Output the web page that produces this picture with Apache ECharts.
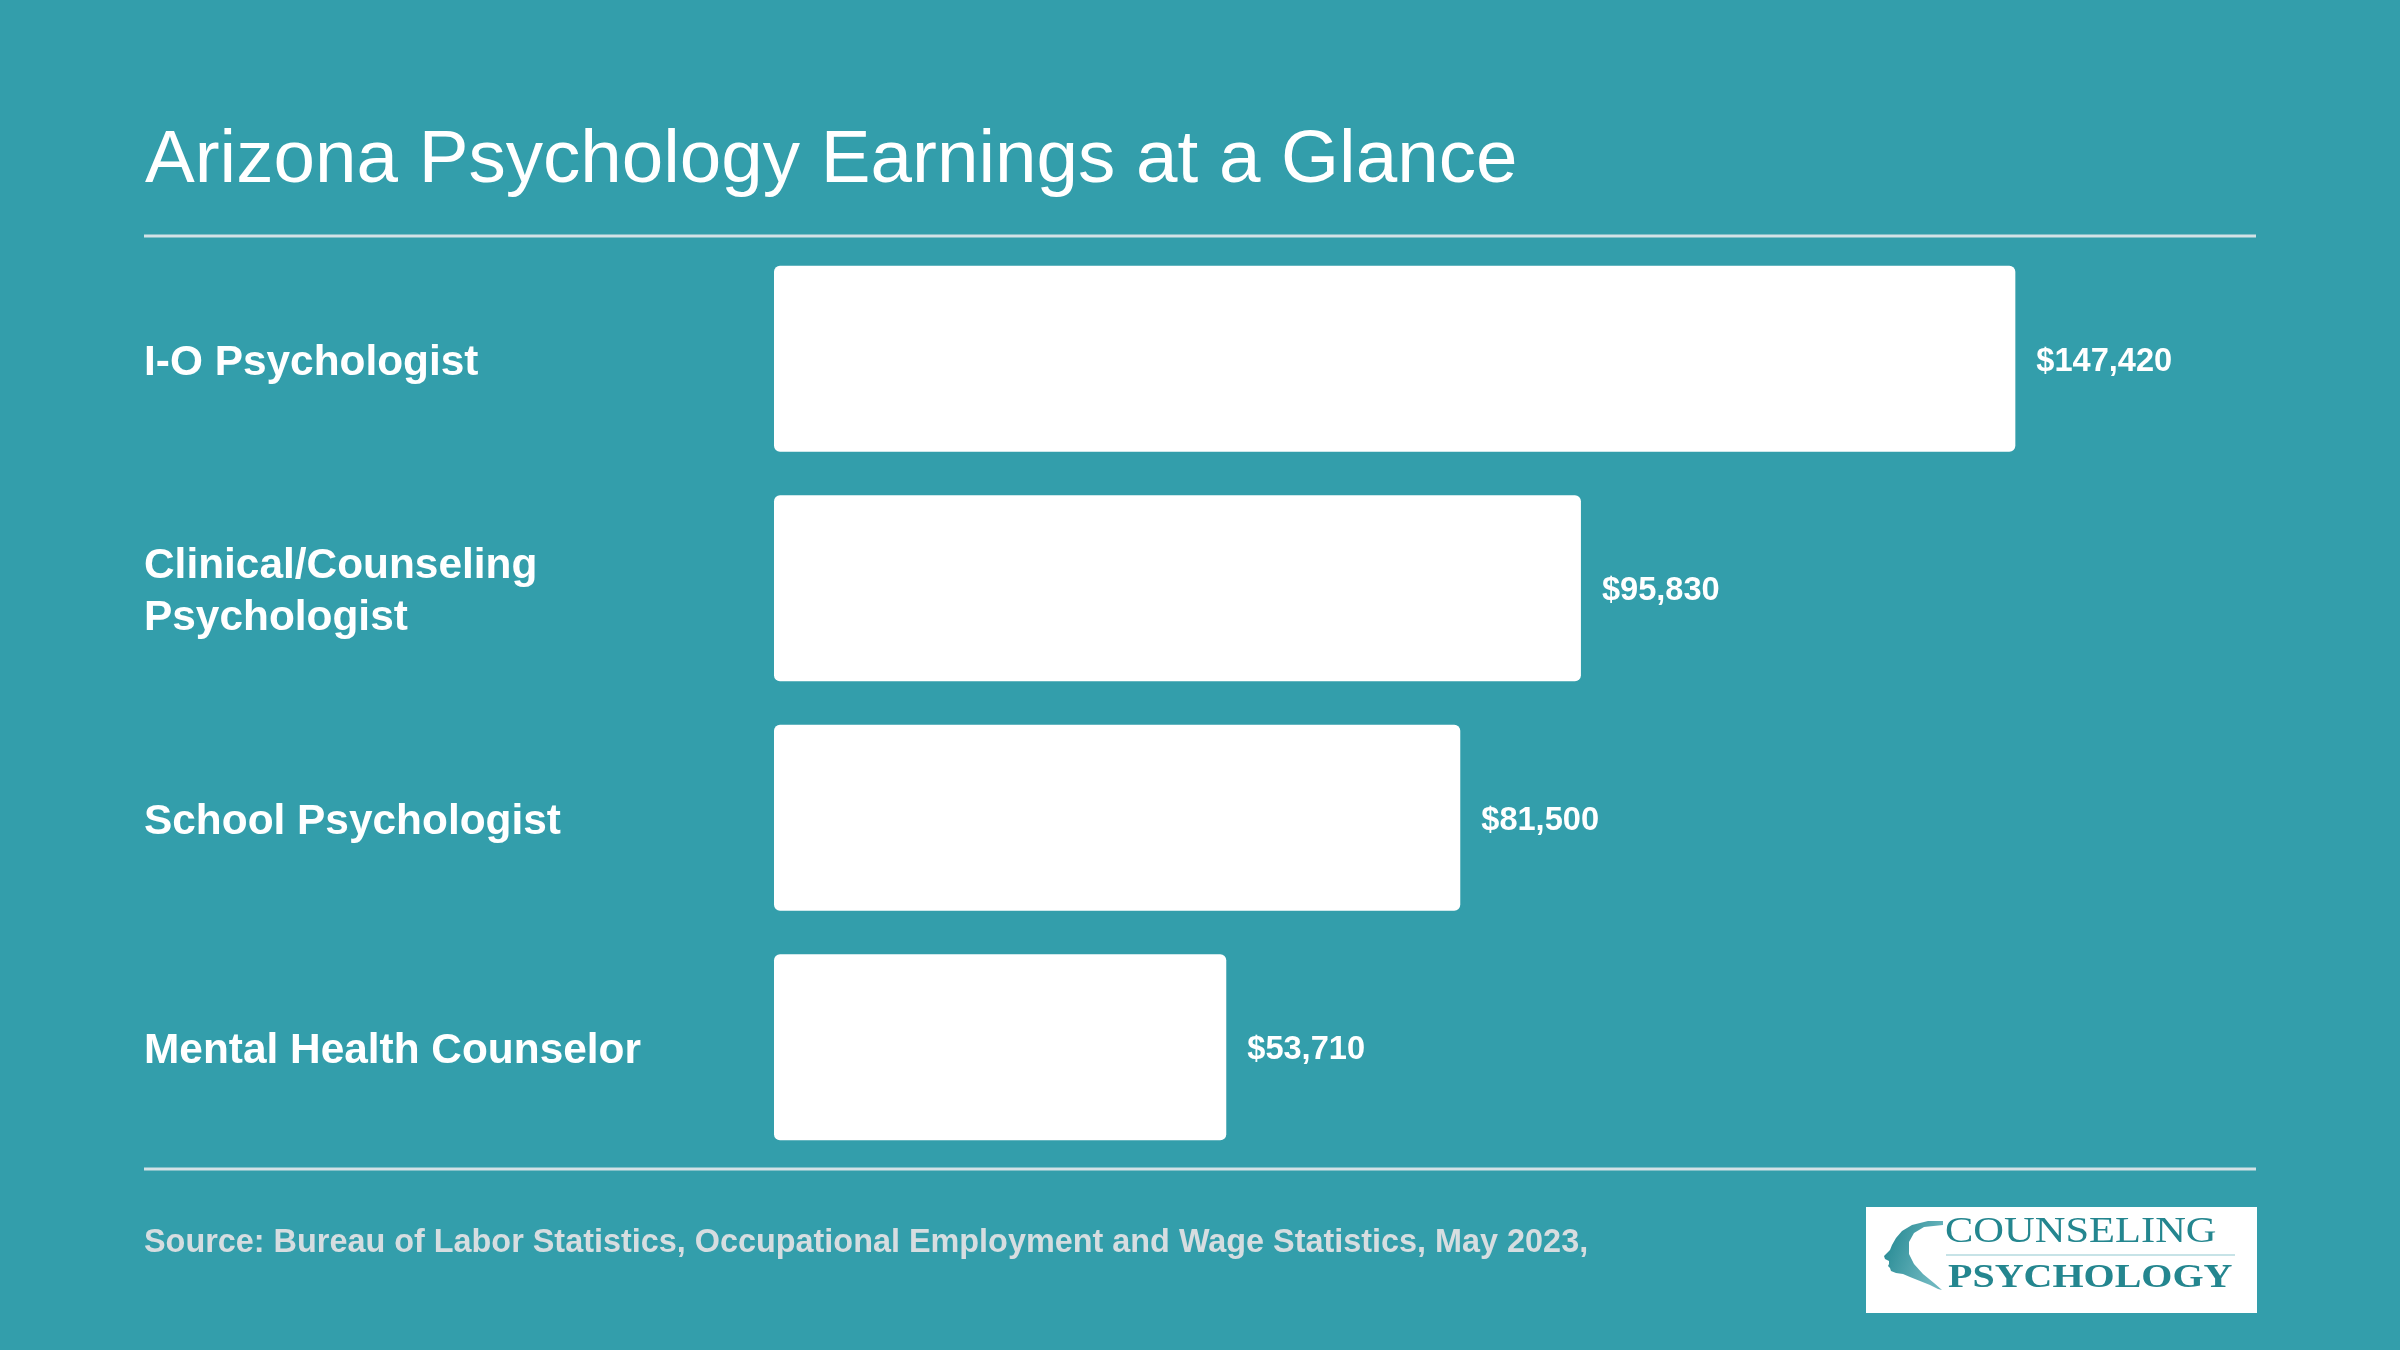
<!DOCTYPE html>
<html lang="en">
<head>
    <meta charset="UTF-8">
    <title>Arizona Psychology Earnings at a Glance</title>
    <script src="https://cdn.jsdelivr.net/npm/echarts@6/dist/echarts.min.js"></script>
    <style>
        html, body { margin: 0; padding: 0; background: #339eab; }
        #main { width: 2400px; height: 1350px; }
    </style>
</head>
<body>
<div id="main"></div>
<script>
    // data
    var categories = ['I-O Psychologist', 'Clinical/Counseling\nPsychologist', 'School Psychologist', 'Mental Health Counselor'];
    var salaries = [147420, 95830, 81500, 53710];

    var font = '"Liberation Sans", Arial, Helvetica, sans-serif';
    var serif = '"Liberation Serif", "DejaVu Serif", serif';
    var logoColor = '#24868f';

    var myChart = echarts.init(document.getElementById('main'));

    // head silhouette of the logo (decoration only)
    var headOutline = [
        [1943, 1221], [1928, 1221], [1912, 1225], [1902, 1231], [1896, 1238], [1892, 1245], [1890, 1250],
        [1884, 1256], [1885, 1259], [1889, 1261], [1889, 1264], [1888, 1266], [1890, 1268], [1891, 1271],
        [1896, 1273], [1903, 1274], [1910, 1277], [1920, 1281], [1930, 1285], [1938, 1289], [1942, 1290],
        [1934, 1283], [1923, 1274], [1914, 1264], [1909, 1254], [1909, 1242], [1914, 1233], [1924, 1227], [1943, 1225]
    ];

    var option = {
        backgroundColor: '#339eab',
        animation: false,
        title: {
            text: 'Arizona Psychology Earnings at a Glance',
            left: 140,
            top: 119,
            textStyle: {
                color: '#ffffff',
                fontFamily: font,
                fontWeight: 'normal',
                fontSize: 74.6,
                lineHeight: 75
            }
        },
        grid: {
            left: 774,
            top: 244,
            width: 1482,
            height: 918,
            containLabel: false
        },
        xAxis: {
            type: 'value',
            min: 0,
            max: 176000,
            show: false,
            splitLine: {show: false}
        },
        yAxis: {
            type: 'category',
            inverse: true,
            data: categories,
            axisLine: {show: false},
            axisTick: {show: false},
            axisLabel: {
                align: 'left',
                margin: 630,
                formatter: function (v) {
                    // small spacer line on top nudges the label down a few pixels
                    return '{s| }\n' + v.split('\n').map(function (t) {
                        return '{a|' + t + '}';
                    }).join('\n');
                },
                rich: {
                    s: {fontSize: 1, lineHeight: 9, height: 9},
                    a: {
                        color: '#ffffff',
                        fontFamily: font,
                        fontWeight: 'bold',
                        fontSize: 42.4,
                        lineHeight: 52
                    }
                }
            }
        },
        series: [
            {
                type: 'bar',
                data: salaries,
                barWidth: 186,
                itemStyle: {color: '#ffffff', borderRadius: 6},
                label: {
                    show: true,
                    position: 'right',
                    distance: 20,
                    offset: [1, 3],
                    color: '#ffffff',
                    fontFamily: font,
                    fontWeight: 'bold',
                    fontSize: 32.6,
                    formatter: function (p) {
                        return '$' + p.value.toLocaleString('en-US');
                    }
                }
            }
        ],
        graphic: [
            // rules
            {type: 'line', shape: {x1: 144, y1: 236, x2: 2256, y2: 236}, style: {stroke: '#d3e2e6', lineWidth: 3}},
            {type: 'line', shape: {x1: 144, y1: 1169, x2: 2256, y2: 1169}, style: {stroke: '#d3e2e6', lineWidth: 3}},
            // source
            {
                type: 'text', x: 144, y: 1243,
                style: {
                    text: 'Source: Bureau of Labor Statistics, Occupational Employment and Wage Statistics, May 2023,',
                    fill: '#d6dde0', font: 'bold 32.4px ' + font, textVerticalAlign: 'middle'
                }
            },
            // logo box
            {type: 'rect', shape: {x: 1866, y: 1207, width: 391, height: 106}, style: {fill: '#ffffff'}},
            {
                type: 'polygon', shape: {points: headOutline},
                style: {
                    fill: {
                        type: 'linear', x: 0, y: 0, x2: 1, y2: 0.3,
                        colorStops: [{offset: 0, color: '#1f858f'}, {offset: 1, color: '#6cb6be'}]
                    }
                }
            },
            {
                type: 'text', x: 1945, y: 1233, scaleY: 0.84,
                style: {text: 'COUNSELING', fill: logoColor, font: '42.5px ' + serif, textVerticalAlign: 'middle'}
            },
            {type: 'line', shape: {x1: 1946, y1: 1255, x2: 2235, y2: 1255}, style: {stroke: '#c7e3e7', lineWidth: 2}},
            {
                type: 'text', x: 1948, y: 1278, scaleY: 0.84,
                style: {text: 'PSYCHOLOGY', fill: logoColor, font: 'bold 40px ' + serif, textVerticalAlign: 'middle'}
            }
        ]
    };
    myChart.setOption(option);
</script>
</body>
</html>
